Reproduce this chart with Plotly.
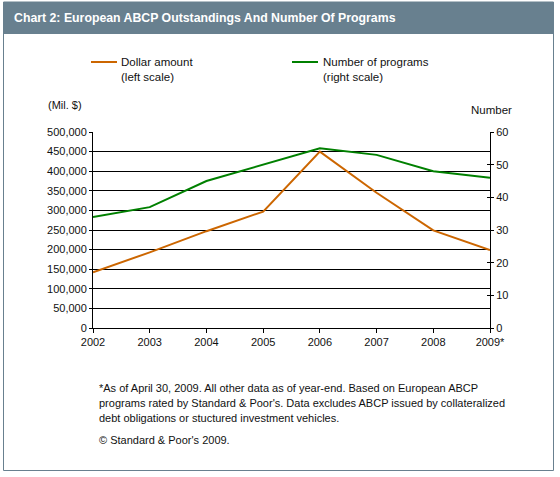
import plotly.graph_objects as go

years = [2002, 2003, 2004, 2005, 2006, 2007, 2008, 2009]
year_labels = ["2002", "2003", "2004", "2005", "2006", "2007", "2008", "2009*"]
dollar_amount = [142000, 193000, 247000, 297000, 450000, 345000, 249000, 199000]
num_programs = [34, 37, 45, 50, 55, 53, 48, 46]

W, H = 560, 477
L, R, T, B = 93, 490, 132, 328  # plot area in pixels


def px(x):
    return (x - L) / (R - L)


def py(y):
    return (B - y) / (B - T)


FONT = "Liberation Sans, Arial, sans-serif"
TXT = "#111111"
HEAD = "#68808F"
ORANGE = "#CC6600"
GREEN = "#008000"

fig = go.Figure()
fig.add_trace(go.Scatter(x=years, y=dollar_amount, mode="lines",
                         line=dict(color=ORANGE, width=2), showlegend=False,
                         name="Dollar amount"))
fig.add_trace(go.Scatter(x=years, y=num_programs, mode="lines", yaxis="y2",
                         line=dict(color=GREEN, width=2), showlegend=False,
                         name="Number of programs"))

shapes = [
    dict(type="rect", xref="paper", yref="paper", x0=px(3.5), x1=px(553.5), y0=py(2), y1=py(470.5),
         line=dict(color=HEAD, width=1), fillcolor="rgba(0,0,0,0)", layer="below"),
    dict(type="rect", xref="paper", yref="paper", x0=px(3), x1=px(554), y0=py(2), y1=py(34),
         line=dict(width=0), fillcolor=HEAD, layer="below"),
    dict(type="line", xref="paper", yref="paper", x0=px(91), x1=px(117), y0=py(62), y1=py(62),
         line=dict(color=ORANGE, width=2)),
    dict(type="line", xref="paper", yref="paper", x0=px(292), x1=px(318), y0=py(62), y1=py(62),
         line=dict(color=GREEN, width=2)),
]

ann = []
def text(x, y, s, size=11, color=TXT, xanchor="left", bold=False, yanchor="middle"):
    ann.append(dict(xref="paper", yref="paper", x=px(x), y=py(y), text=(f"<b>{s}</b>" if bold else s),
                    showarrow=False, xanchor=xanchor, yanchor=yanchor, align="left",
                    font=dict(family=FONT, size=size, color=color)))

text(12, 18, "Chart 2: European ABCP Outstandings And Number Of Programs", size=12.3, color="white", bold=True)
text(119, 62, "Dollar amount", size=11.5)
text(119, 77, "(left scale)", size=11.5)
text(321, 62, "Number of programs", size=11.5)
text(321, 77, "(right scale)", size=11.5)
text(46, 105, "(Mil. $)")
text(469, 110, "Number", size=11.5)
text(97, 388, "*As of April 30, 2009. All other data as of year-end. Based on European ABCP")
text(97, 403, "programs rated by Standard &amp; Poor's. Data excludes ABCP issued by collateralized")
text(97, 418, "debt obligations or stuctured investment vehicles.")
text(97, 440, "© Standard &amp; Poor's 2009.")

fig.update_layout(
    width=W, height=H,
    margin=dict(l=L, r=W - R, t=T, b=H - B),
    paper_bgcolor="white", plot_bgcolor="white",
    font=dict(family=FONT, size=11, color=TXT),
    xaxis=dict(range=[2002, 2009], tickvals=years, ticktext=year_labels,
               showgrid=False, zeroline=False, showline=True, linecolor="black", linewidth=1,
               ticks="outside", ticklen=4, tickcolor="black", tickfont=dict(size=11, color=TXT)),
    yaxis=dict(range=[0, 500000], dtick=50000, tickformat=",", showgrid=True,
               gridcolor="black", gridwidth=1, zeroline=False, showline=True,
               linecolor="black", linewidth=1, ticks="outside", ticklen=3, tickcolor="black",
               tickfont=dict(size=11, color=TXT)),
    yaxis2=dict(range=[0, 60], dtick=10, overlaying="y", side="right", showgrid=False,
                zeroline=False, showline=True, linecolor="black", linewidth=1,
                ticks="outside", ticklen=3, tickcolor="black", tickfont=dict(size=11, color=TXT)),
    yaxis3=dict(range=[0, 60], dtick=10, overlaying="y", side="right", showgrid=False,
                zeroline=False, showline=False, showticklabels=False,
                ticks="inside", ticklen=3, tickcolor="black"),
    shapes=shapes, annotations=ann,
)
fig.add_trace(go.Scatter(x=[], y=[], yaxis="y3", showlegend=False, hoverinfo="skip"))

fig.write_html("out.html")
